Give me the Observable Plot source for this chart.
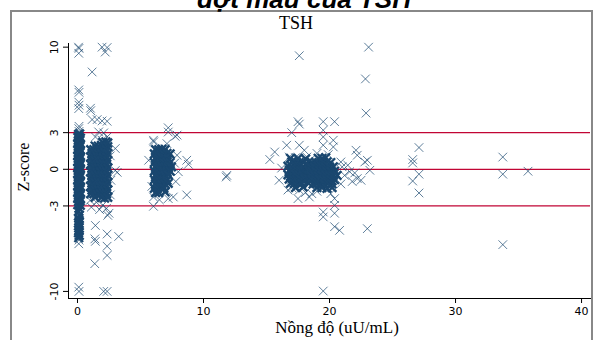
<!DOCTYPE html>
<html><head><meta charset="utf-8">
<script src="https://cdn.jsdelivr.net/npm/d3@7"></script>
<script src="https://cdn.jsdelivr.net/npm/@observablehq/plot@0.6"></script>
<style>body{margin:0;background:#fff} svg{display:block}</style>
</head><body><div id="chart"></div>
<script>
const chartTitle = "đợt mẫu của TSH";
const panelTitle = "TSH";
const xLabel = "Nồng độ (uU/mL)";
const yLabel = "Z-score";
const xTicks = [0, 10, 20, 30, 40];
const yTicks = [-10, -3, 0, 3, 10];
const refLines = [-3, 0, 3];

// [concentration, z-score] — densely overlapping cores
const core0 = [
[0.03,-2.9],[0.14,-2.85],[0.22,-2.95],[0.08,-2.65],[0.19,-2.6],
[0.03,-2.4],[0.13,-2.35],[0.23,-2.45],[0.08,-2.15],[0.18,-2.1],
[0.02,-1.9],[0.13,-1.85],[0.22,-1.95],[0.07,-1.65],[0.18,-1.6],
[0.03,-1.4],[0.12,-1.35],[0.23,-1.45],[0.08,-1.15],[0.19,-1.1],
[0.02,-0.9],[0.14,-0.85],[0.22,-0.95],[0.07,-0.65],[0.17,-0.6],
[0.03,-0.4],[0.12,-0.35],[0.23,-0.45],[0.08,-0.15],[0.18,-0.1],
[0.02,0.1],[0.13,0.15],[0.22,0.05],[0.07,0.35],[0.18,0.4],
[0.03,0.6],[0.14,0.65],[0.23,0.55],[0.08,0.85],[0.19,0.9],
[0.02,1.1],[0.12,1.15],[0.22,1.05],[0.07,1.35],[0.17,1.4],
[0.03,1.6],[0.13,1.65],[0.23,1.55],[0.08,1.85],[0.18,1.9],
[0.02,2.1],[0.14,2.15],[0.22,2.05],[0.07,2.35],[0.18,2.4],
[0.03,2.6],[0.12,2.65],[0.23,2.55],[0.08,2.85],[0.17,2.9],
[0.12,-3.2],[0.08,-3.45],[0.15,-3.77],[0.1,-4.0],[0.13,-4.2],[0.08,-4.4],
[0.14,-4.6],[0.1,-4.8],[0.13,-5.0],[0.08,-5.2],[0.14,-5.4],[0.1,-5.6]
];
const spread0 = [
[0.12,3.1],[0.1,3.33],[0.12,3.52],[0.1,4.97],[0.12,5.25],[0.1,5.5],
[0.12,6.3],[0.1,6.5],[0.1,9.5],[0.12,9.9],[0.08,10.0],
[0.12,-5.8],[0.1,-6.1],[0.1,-9.65],[0.12,-10.0]
];

const core2 = [
[2.0,2.2],[2.25,2.25],[2.4,2.15],
[1.4,1.9],[1.65,1.9],[1.9,1.95],[2.15,1.9],[2.4,1.85],
[1.05,1.6],[1.3,1.6],[1.55,1.65],[1.8,1.6],[2.05,1.55],[2.3,1.6],
[1.15,1.3],[1.4,1.3],[1.65,1.25],[1.9,1.3],[2.15,1.35],[2.4,1.3],
[1.05,1.0],[1.3,1.0],[1.55,1.05],[1.8,1.0],[2.05,0.95],[2.3,1.0],
[1.15,0.7],[1.4,0.7],[1.65,0.75],[1.9,0.7],[2.15,0.65],[2.4,0.7],
[1.05,0.4],[1.3,0.4],[1.55,0.35],[1.8,0.4],[2.05,0.45],[2.3,0.4],
[1.15,0.1],[1.4,0.1],[1.65,0.15],[1.9,0.1],[2.15,0.05],[2.4,0.1],
[1.05,-0.2],[1.3,-0.2],[1.55,-0.25],[1.8,-0.2],[2.05,-0.15],[2.3,-0.2],
[1.15,-0.5],[1.4,-0.5],[1.65,-0.45],[1.9,-0.5],[2.15,-0.55],[2.4,-0.5],
[1.05,-0.8],[1.3,-0.8],[1.55,-0.85],[1.8,-0.8],[2.05,-0.75],[2.3,-0.8],
[1.15,-1.1],[1.4,-1.1],[1.65,-1.05],[1.9,-1.1],[2.15,-1.15],[2.4,-1.1],
[1.05,-1.4],[1.3,-1.4],[1.55,-1.45],[1.8,-1.4],[2.05,-1.35],[2.3,-1.4],
[1.15,-1.7],[1.4,-1.7],[1.65,-1.65],[1.9,-1.7],[2.15,-1.75],[2.4,-1.7],
[1.05,-2.0],[1.3,-2.0],[1.55,-2.05],[1.8,-2.0],[2.05,-1.95],[2.3,-2.0],
[1.4,-2.3],[1.9,-2.3],[2.15,-2.35],[2.4,-2.3]
];
const spread2 = [
[1.16,7.97],[1.03,5.0],[1.05,4.8],[1.16,4.07],[1.56,4.07],[1.95,3.96],[2.35,3.93],
[1.68,3.06],[2.08,2.98],[2.35,2.65],[1.95,2.38],[1.42,2.65],[3.0,1.7],[3.0,-0.1],
[3.15,-0.25],[2.6,1.1],[2.65,-0.9],[2.6,-2.1],[1.0,-2.55],[1.5,-2.7],[1.1,-3.1],
[2.0,-2.95],[2.3,-3.2],[2.5,-3.6],[2.4,-3.77],[1.75,-3.3],[1.42,-4.6],[1.38,-5.7],
[1.42,-5.9],[2.35,-5.3],[3.27,-5.5],[2.35,-6.3],[2.35,-7.05],[1.37,-7.73],
[2.08,-10.0],[2.35,-10.0],[1.95,10.0],[2.35,9.97],[2.2,9.6]
];

const core7 = [
[6.2,1.6],[6.45,1.6],[6.7,1.65],[6.95,1.6],
[6.1,1.25],[6.35,1.25],[6.6,1.2],[6.85,1.25],[7.1,1.3],[7.35,1.25],
[6.2,0.9],[6.45,0.9],[6.7,0.95],[6.95,0.9],[7.2,0.85],
[6.1,0.55],[6.35,0.55],[6.6,0.5],[6.85,0.55],[7.1,0.6],[7.35,0.55],
[6.2,0.2],[6.45,0.2],[6.7,0.25],[6.95,0.2],[7.2,0.15],[7.45,0.2],
[6.1,-0.15],[6.35,-0.15],[6.6,-0.1],[6.85,-0.15],[7.1,-0.2],[7.35,-0.15],
[6.2,-0.5],[6.45,-0.5],[6.7,-0.55],[6.95,-0.5],[7.2,-0.45],
[6.1,-0.85],[6.35,-0.85],[6.6,-0.8],[6.85,-0.85],[7.1,-0.9],
[6.2,-1.2],[6.45,-1.2],[6.7,-1.25],[6.95,-1.2],[7.2,-1.15],
[6.1,-1.55],[6.35,-1.55],[6.6,-1.5],[6.85,-1.55],
[6.2,-1.9],[6.45,-1.9],[6.95,-1.85]
];
const spread7 = [
[7.2,3.4],[7.2,3.05],[7.9,2.8],[6.05,2.25],[7.1,2.1],[6.95,1.7],[5.65,0.74],
[8.67,0.74],[8.8,0.41],[7.9,1.15],[8.0,-0.2],[11.8,-0.63],[11.85,-0.5],
[8.67,-2.1],[7.2,-2.4],[7.6,-2.27],[6.03,-3.03],[6.03,-2.27],[6.03,2.38],
[7.75,2.7],[7.8,-1.0],[7.7,0.5],[5.9,-1.4],[6.5,-2.5]
];

const core19 = [
[16.9,0.9],[17.5,0.9],[18.1,0.85],
[17.0,0.6],[17.3,0.6],[17.6,0.55],[17.9,0.6],[18.35,0.6],
[16.7,0.25],[17.0,0.25],[17.3,0.3],[17.6,0.25],[17.9,0.2],[18.2,0.25],[18.35,0.3],
[16.8,-0.1],[17.1,-0.1],[17.4,-0.05],[17.7,-0.1],[18.0,-0.15],[18.35,-0.1],
[16.7,-0.45],[17.0,-0.45],[17.3,-0.4],[17.6,-0.45],[17.9,-0.5],[18.2,-0.45],[18.35,-0.5],
[16.8,-0.8],[17.1,-0.8],[17.4,-0.85],[17.7,-0.8],[18.0,-0.75],[18.35,-0.8],
[16.9,-1.15],[17.2,-1.15],[17.5,-1.1],[17.8,-1.15],[18.35,-1.15],
[17.3,-1.5],[17.9,-1.45],
[19.1,0.9],[19.4,0.9],[19.7,0.95],
[18.6,0.55],[18.9,0.55],[19.2,0.5],[19.5,0.55],[19.8,0.6],[20.1,0.55],
[18.5,0.2],[18.8,0.2],[19.1,0.25],[19.4,0.2],[19.7,0.15],[20.0,0.2],[20.3,0.2],
[18.6,-0.15],[18.9,-0.15],[19.2,-0.1],[19.5,-0.15],[19.8,-0.2],[20.1,-0.15],[20.4,-0.15],
[18.5,-0.5],[18.8,-0.5],[19.1,-0.55],[19.4,-0.5],[19.7,-0.45],[20.0,-0.5],[20.3,-0.5],[20.6,-0.5],
[18.6,-0.85],[18.9,-0.85],[19.2,-0.8],[19.5,-0.85],[19.8,-0.9],[20.1,-0.85],[20.4,-0.85],
[18.7,-1.2],[19.0,-1.2],[19.3,-1.25],[19.6,-1.2],[19.9,-1.15],[20.2,-1.2],
[19.0,-1.5],[19.4,-1.5],[19.8,-1.55],[20.2,-1.5]
];
const spread19 = [
[22.9,4.6],[17.5,3.9],[17.6,3.7],[19.5,3.9],[20.4,3.9],[17.0,3.0],[19.5,3.2],
[19.5,2.65],[20.3,2.38],[19.5,1.97],[20.3,1.83],[16.6,1.97],[17.6,1.97],[18.0,1.56],
[15.65,1.42],[15.26,0.8],[22.1,1.56],[22.2,1.15],[22.8,0.6],[23.0,0.74],[23.2,-0.08],
[21.45,0.33],[21.6,-0.2],[22.2,-0.76],[22.5,-0.9],[16.7,-1.7],[17.5,-2.4],[18.4,-2.27],
[20.4,-2.4],[20.4,-2.95],[19.5,-3.5],[19.5,-3.9],[20.4,-3.6],[20.4,-4.7],[20.8,-5.0],
[23.0,-4.86],[17.6,9.3],[23.1,10.0],[22.85,7.4],[19.5,-9.97],[16.8,1.0],[17.3,0.95],
[17.0,-1.5],[17.6,-1.7],[18.1,-1.9],[18.6,-2.0],[19.0,-1.8],[20.1,-2.0],[20.9,-1.2],
[21.0,0.2],[21.2,-0.5],[20.9,0.6],[19.0,1.3],[19.9,1.2],[18.2,1.0],[16.2,0.1],
[16.0,-0.9],[21.8,-1.0],[22.0,-0.3]
];

const spreadHigh = [
[27.1,1.78],[26.6,0.8],[26.6,0.52],[27.1,-0.4],[26.6,-0.96],[27.1,-1.94],
[33.75,1.0],[33.75,-0.4],[35.75,-0.16],[33.75,-6.17]
];

const toRows = arr => arr.map(([c, z]) => ({c, z}));
const corePoints = toRows([...core0, ...core2, ...core7, ...core19]);
const spreadPoints = toRows([...spread0, ...spread2, ...spread7, ...spread19, ...spreadHigh]);

const navy = "#1a476f";
const plot = Plot.plot({
  width: 595, height: 340,
  marginLeft: 68, marginRight: 5, marginTop: 43, marginBottom: 42,
  x: {domain: [-0.714, 40.71]},
  y: {domain: [-10.58, 10.3]},
  style: {fontFamily: "DejaVu Sans", fontSize: "11px", color: "#000", background: "#fff"},
  marks: [
    Plot.ruleY(refLines, {stroke: "#c10534", strokeWidth: 1.2}),
    Plot.dot(spreadPoints, {x: "c", y: "z", symbol: "times", r: 4, stroke: navy, strokeWidth: 1, strokeOpacity: 0.7}),
    Plot.dot(corePoints, {x: "c", y: "z", symbol: "times", r: 4, stroke: navy, strokeWidth: 2.4, strokeOpacity: 1}),
    Plot.frame({anchor: "left", stroke: "#000"}),
    Plot.frame({anchor: "bottom", stroke: "#000"}),
    Plot.axisX({ticks: xTicks, tickSize: 5, tickPadding: 4, label: null}),
    Plot.axisY({ticks: yTicks, tickSize: 5, tickRotate: -90, tickPadding: 6, tickFormat: d => String(d), label: null})
  ]
});

const svg = d3.select(plot);
svg.append("rect").attr("x", 11).attr("y", 11).attr("width", 581).attr("height", 345)
  .attr("fill", "none").attr("stroke", "#888").attr("stroke-width", 2);
svg.append("text").text(chartTitle).attr("x", 304).attr("y", 8)
  .attr("text-anchor", "middle").attr("font-family", "Liberation Sans, Arial, sans-serif")
  .attr("font-weight", "bold").attr("font-style", "italic").attr("font-size", 26).attr("fill", "#000");
svg.append("text").text(panelTitle).attr("x", 296).attr("y", 29)
  .attr("text-anchor", "middle").attr("font-family", "Liberation Serif, Times New Roman, serif")
  .attr("font-size", 18).attr("fill", "#000");
svg.append("text").text(xLabel).attr("x", 337).attr("y", 333)
  .attr("text-anchor", "middle").attr("font-family", "Liberation Serif, Times New Roman, serif")
  .attr("font-size", 17).attr("fill", "#000");
svg.append("text").text(yLabel).attr("transform", "translate(29,167) rotate(-90)")
  .attr("text-anchor", "middle").attr("font-family", "Liberation Serif, Times New Roman, serif")
  .attr("font-size", 16).attr("fill", "#000");

document.getElementById("chart").append(plot);
</script>
</body></html>
